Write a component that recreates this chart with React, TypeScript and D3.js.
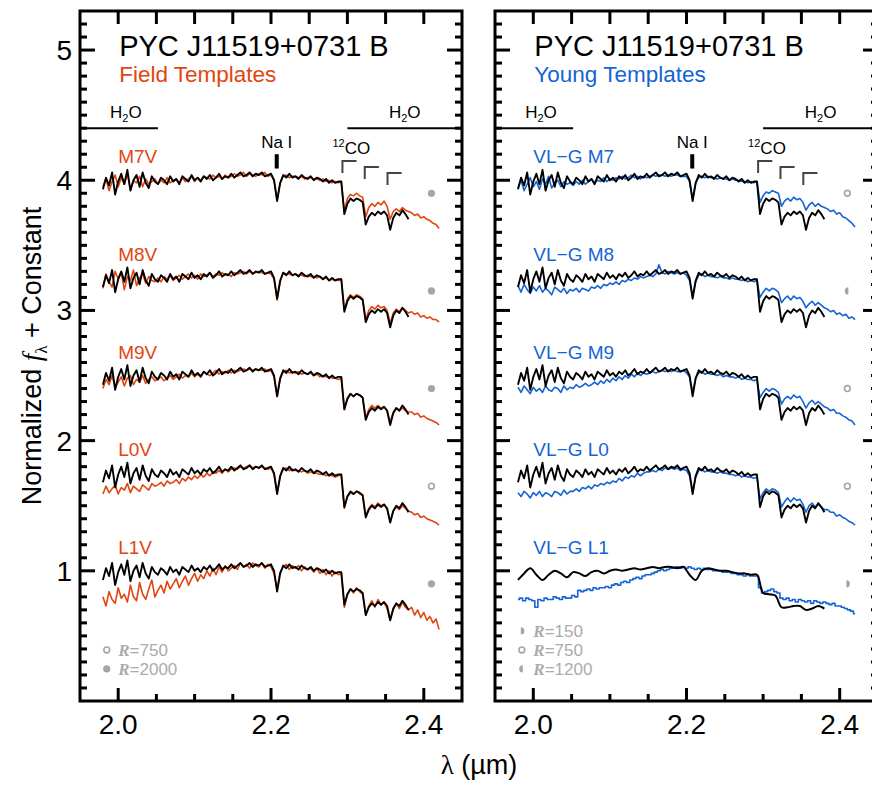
import React from 'react';
import * as d3 from 'd3';

// ---- Data (relative flux, sampled from 1.980 µm in 0.004 µm steps) ----
const WAVE_START = 1.98;
const WAVE_STEP = 0.004;
const SMOOTH_STEP = 0.008;

const OBJECT = [
  0.93,1.02,0.96,1.06,0.89,0.99,1.05,0.97,1.08,0.92,1.00,1.04,0.95,1.06,0.98,0.94,1.03,0.99,
  0.97,1.02,1.00,0.97,1.03,0.99,1.01,0.97,1.03,1.01,0.99,1.04,1.00,1.02,0.99,1.03,1.01,1.04,1.00,1.02,1.05,1.01,1.03,1.02,1.05,
  1.02,1.04,1.06,1.03,1.04,1.06,1.03,1.05,1.04,1.06,1.03,1.04,1.05,
  1.00,0.84,0.98,
  1.04,1.02,1.05,1.02,1.03,1.01,1.04,1.02,1.01,1.03,1.00,1.02,1.01,0.99,1.01,0.98,1.00,0.98,0.99,
  0.99,0.74,0.82,0.86,0.84,0.86,0.85,0.83,0.66,0.72,0.75,0.73,0.76,0.74,0.76,0.73,0.62,0.71,0.75,0.73,0.77,0.74,0.70,
];

const OBJECT_SMOOTH = [
  0.93,0.98,1.02,0.97,0.93,0.97,1.00,0.98,0.95,0.99,0.98,0.96,0.99,1.00,0.98,1.00,1.01,1.00,1.01,1.02,
  1.01,1.02,1.03,1.02,1.03,1.03,1.02,1.03,0.97,0.93,1.00,1.02,1.01,1.00,1.00,0.99,0.98,0.98,0.97,0.97,
  0.83,0.82,0.81,0.72,0.72,0.73,0.73,0.70,0.71,0.73,0.71,
];

const FIELD_M7V = [
  0.95,1.01,0.92,0.99,1.04,0.95,1.02,0.97,1.05,0.93,1.00,0.98,1.03,0.95,1.01,0.97,0.99,1.01,
  0.97,1.00,0.98,1.02,0.98,1.00,1.01,0.98,1.02,0.99,1.01,1.03,0.99,1.02,1.00,1.03,1.02,1.01,1.04,1.02,1.03,1.01,1.04,1.02,1.03,
  1.05,1.03,1.04,1.06,1.03,1.05,1.04,1.03,1.05,1.04,1.06,1.03,1.04,
  1.00,0.85,0.98,
  1.03,1.04,1.02,1.03,1.03,1.02,1.03,1.01,1.02,1.02,1.01,1.01,1.00,1.01,0.99,1.00,0.98,0.99,0.98,
  0.99,0.76,0.86,0.89,0.88,0.90,0.88,0.87,0.72,0.79,0.82,0.80,0.83,0.81,0.84,0.80,0.70,0.76,0.78,0.76,0.79,0.77,0.76,
  0.75,0.73,0.74,0.71,0.72,0.70,0.69,0.67,0.66,0.63,
];

const FIELD_M8V = [
  0.92,1.03,0.97,0.93,1.05,0.99,1.04,0.91,1.01,0.98,1.06,0.94,1.00,1.03,0.96,1.01,0.98,0.97,
  1.00,0.97,1.01,0.99,1.02,0.98,1.00,1.02,0.99,1.01,1.03,1.00,1.02,0.99,1.03,1.01,1.02,1.04,1.01,1.03,1.02,1.04,1.02,1.03,1.01,
  1.04,1.03,1.04,1.05,1.03,1.05,1.04,1.04,1.05,1.04,1.03,1.04,1.03,
  0.99,0.83,0.97,
  1.04,1.03,1.03,1.02,1.03,1.02,1.02,1.01,1.02,1.01,1.01,1.00,1.01,0.99,1.00,0.98,0.99,0.98,0.98,
  0.99,0.75,0.84,0.87,0.85,0.87,0.86,0.84,0.68,0.75,0.78,0.76,0.79,0.77,0.78,0.75,0.65,0.73,0.76,0.74,0.77,0.75,0.73,
  0.74,0.72,0.73,0.70,0.71,0.69,0.70,0.68,0.68,0.66,
];

const FIELD_M9V = [
  0.90,0.97,0.93,1.00,0.91,0.95,0.99,0.92,0.98,1.00,0.93,0.97,0.95,1.00,0.94,0.97,0.99,0.96,
  0.97,0.99,0.96,0.98,1.00,0.97,0.99,1.01,0.98,1.00,0.99,1.02,0.99,1.01,1.00,1.03,1.01,1.00,1.02,1.04,1.01,1.03,1.02,1.04,1.02,
  1.04,1.03,1.04,1.05,1.04,1.05,1.04,1.05,1.04,1.04,1.05,1.03,1.04,
  0.99,0.84,0.97,
  1.03,1.04,1.02,1.03,1.02,1.03,1.01,1.02,1.01,1.02,1.00,1.01,0.99,1.00,0.99,0.99,0.98,0.98,0.97,
  0.98,0.74,0.83,0.86,0.84,0.86,0.85,0.83,0.67,0.74,0.77,0.75,0.77,0.75,0.76,0.73,0.64,0.72,0.75,0.73,0.75,0.73,0.72,
  0.72,0.70,0.71,0.68,0.69,0.67,0.66,0.65,0.64,0.62,
];

const FIELD_L0V = [
  0.84,0.90,0.85,0.88,0.91,0.84,0.89,0.87,0.92,0.85,0.90,0.88,0.86,0.91,0.89,0.87,0.92,0.90,
  0.91,0.93,0.90,0.94,0.92,0.93,0.95,0.92,0.96,0.94,0.97,0.95,0.98,0.96,0.99,0.97,1.00,0.98,1.01,1.00,1.02,1.00,1.03,1.01,1.03,
  1.04,1.03,1.05,1.04,1.05,1.06,1.04,1.05,1.04,1.05,1.04,1.03,1.04,
  0.99,0.85,0.97,
  1.03,1.04,1.02,1.03,1.02,1.02,1.01,1.02,1.00,1.01,1.00,1.00,0.99,1.00,0.98,0.99,0.98,0.97,0.98,
  0.99,0.73,0.82,0.85,0.84,0.86,0.84,0.83,0.67,0.73,0.76,0.74,0.77,0.75,0.76,0.72,0.63,0.71,0.74,0.72,0.75,0.73,0.71,
  0.70,0.68,0.69,0.66,0.67,0.65,0.64,0.63,0.62,0.60,
];

const FIELD_L1V = [
  0.80,0.73,0.84,0.78,0.75,0.87,0.79,0.82,0.76,0.89,0.80,0.77,0.91,0.82,0.78,0.86,0.93,0.80,
  0.85,0.89,0.83,0.92,0.86,0.90,0.94,0.87,0.92,0.96,0.89,0.94,0.98,0.92,0.97,0.94,1.00,0.96,1.02,0.97,1.03,0.99,1.04,1.00,1.02,
  1.04,1.01,1.06,1.03,1.05,1.02,1.06,1.04,1.03,1.06,1.02,1.05,1.03,
  0.98,0.86,0.99,
  1.03,1.05,1.01,1.04,1.02,1.04,1.00,1.03,1.01,1.02,0.99,1.02,0.98,1.01,0.97,1.00,0.96,0.99,0.97,
  0.98,0.72,0.82,0.86,0.83,0.87,0.84,0.82,0.66,0.73,0.77,0.72,0.78,0.74,0.76,0.71,0.62,0.70,0.75,0.71,0.76,0.72,0.70,
  0.72,0.66,0.70,0.64,0.68,0.62,0.65,0.60,0.63,0.55,
];

const YOUNG_M7 = [
  0.94,1.00,0.92,0.97,1.02,0.95,0.99,0.93,1.01,0.97,1.03,0.94,0.98,1.00,0.95,0.99,0.97,0.98,
  0.96,0.99,0.97,1.00,0.97,0.99,1.01,0.98,1.00,0.99,1.02,0.99,1.01,1.00,1.02,1.01,1.03,1.01,1.02,1.04,1.02,1.03,1.01,1.03,1.02,
  1.03,1.04,1.03,1.04,1.04,1.03,1.04,1.03,1.04,1.04,1.03,1.03,1.03,
  0.99,0.86,0.98,
  1.02,1.03,1.02,1.03,1.02,1.02,1.01,1.02,1.01,1.01,1.00,1.01,1.00,1.00,0.99,0.99,0.98,0.99,0.98,
  0.99,0.83,0.88,0.91,0.90,0.92,0.91,0.90,0.80,0.84,0.86,0.84,0.87,0.85,0.86,0.83,0.77,0.81,0.83,0.80,0.82,0.80,0.79,
  0.78,0.76,0.77,0.74,0.75,0.72,0.71,0.69,0.67,0.64,
];

const YOUNG_M8 = [
  0.94,0.89,0.95,0.91,0.88,0.93,0.90,0.94,0.89,0.92,0.90,0.87,0.93,0.91,0.89,0.92,0.88,0.91,
  0.90,0.92,0.89,0.92,0.91,0.90,0.93,0.92,0.94,0.92,0.95,0.94,0.96,0.95,0.97,0.95,0.98,0.97,0.99,0.98,1.00,0.99,1.01,1.00,1.01,
  1.02,1.01,1.03,1.10,1.04,1.03,1.05,1.04,1.03,1.04,1.03,1.04,1.02,
  0.98,0.86,0.97,
  1.02,1.03,1.01,1.02,1.01,1.01,1.00,1.01,1.00,1.00,0.99,1.00,0.99,0.99,0.98,0.99,0.97,0.98,0.97,
  0.98,0.85,0.89,0.92,0.90,0.92,0.91,0.89,0.81,0.84,0.86,0.83,0.86,0.84,0.85,0.82,0.77,0.80,0.82,0.79,0.81,0.79,0.77,
  0.76,0.74,0.75,0.72,0.73,0.71,0.72,0.69,0.70,0.68,
];

const YOUNG_M9 = [
  0.91,0.87,0.92,0.89,0.86,0.91,0.88,0.90,0.87,0.92,0.89,0.88,0.91,0.90,0.87,0.92,0.89,0.91,
  0.90,0.93,0.91,0.92,0.94,0.92,0.93,0.95,0.93,0.96,0.94,0.97,0.95,0.98,0.96,0.99,0.97,1.00,0.98,1.01,0.99,1.02,1.00,1.02,1.01,
  1.02,1.03,1.02,1.03,1.04,1.03,1.04,1.03,1.04,1.03,1.03,1.04,1.02,
  0.99,0.87,0.98,
  1.02,1.03,1.01,1.02,1.01,1.01,1.00,1.01,0.99,1.00,0.99,0.99,0.98,0.99,0.97,0.98,0.97,0.97,0.96,
  0.97,0.83,0.87,0.90,0.88,0.90,0.89,0.87,0.78,0.82,0.84,0.82,0.85,0.83,0.84,0.80,0.75,0.79,0.81,0.78,0.80,0.78,0.76,
  0.75,0.73,0.74,0.71,0.71,0.69,0.68,0.66,0.65,0.62,
];

const YOUNG_L0 = [
  0.85,0.82,0.86,0.84,0.81,0.85,0.83,0.86,0.82,0.85,0.84,0.82,0.86,0.85,0.83,0.87,0.84,0.86,
  0.86,0.88,0.86,0.89,0.88,0.90,0.88,0.91,0.90,0.92,0.91,0.93,0.92,0.94,0.93,0.96,0.94,0.97,0.96,0.98,0.97,1.00,0.98,1.00,1.01,
  1.01,1.02,1.01,1.03,1.02,1.04,1.03,1.04,1.03,1.04,1.02,1.03,1.02,
  0.98,0.86,0.97,
  1.02,1.03,1.01,1.02,1.01,1.01,1.00,1.01,1.00,1.00,0.99,0.99,0.98,0.99,0.97,0.98,0.97,0.97,0.96,
  0.97,0.80,0.85,0.88,0.86,0.88,0.87,0.85,0.74,0.78,0.81,0.78,0.81,0.79,0.80,0.76,0.70,0.75,0.77,0.74,0.76,0.74,0.72,
  0.72,0.70,0.70,0.67,0.68,0.66,0.65,0.63,0.62,0.60,
];

const YOUNG_L1 = [
  0.78,0.79,0.77,0.79,0.78,0.77,0.72,0.78,0.77,0.79,0.78,0.78,0.80,0.79,0.78,0.80,0.79,0.79,
  0.81,0.80,0.85,0.84,0.85,0.86,0.85,0.87,0.86,0.87,0.87,0.88,0.87,0.89,0.90,0.89,0.91,0.92,0.91,0.93,0.94,0.95,0.94,0.96,0.97,
  0.97,0.98,0.99,1.00,1.01,1.00,1.01,1.02,1.02,1.03,1.02,1.03,1.02,
  1.03,1.02,1.01,
  1.02,1.01,1.02,1.01,1.01,1.00,1.00,1.00,0.99,0.99,0.99,0.98,0.98,0.97,0.97,0.96,0.97,0.96,0.96,
  0.96,0.87,0.83,0.84,0.85,0.86,0.84,0.83,0.79,0.78,0.79,0.77,0.78,0.76,0.78,0.77,0.76,0.77,0.75,0.77,0.76,0.75,0.76,
  0.75,0.74,0.75,0.73,0.73,0.72,0.71,0.70,0.69,0.67,
];

const OFFSETS = [3, 2.25, 1.5, 0.75, 0];
const FIELD_SERIES = [FIELD_M7V, FIELD_M8V, FIELD_M9V, FIELD_L0V, FIELD_L1V];
const YOUNG_SERIES = [YOUNG_M7, YOUNG_M8, YOUNG_M9, YOUNG_L0, YOUNG_L1];
const FIELD_LABELS = ['M7V', 'M8V', 'M9V', 'L0V', 'L1V'];
const YOUNG_LABELS = ['VL\u2212G M7', 'VL\u2212G M8', 'VL\u2212G M9', 'VL\u2212G L0', 'VL\u2212G L1'];
const FIELD_RES = ['2000', '2000', '2000', '750', '2000'];
const YOUNG_RES = ['750', '1200', '750', '750', '150'];
const FIELD_LEGEND = ['750', '2000'];
const YOUNG_LEGEND = ['150', '750', '1200'];

const X_MAJOR = [2.0, 2.2, 2.4];
const X_MINOR = [2.05, 2.1, 2.15, 2.25, 2.3, 2.35];
const Y_MAJOR = [1, 2, 3, 4, 5];
const CO_HEADS = [2.2935, 2.3227, 2.3525];

const ORANGE = '#E2450F';
const BLUE = '#1464D6';
const GRAY = '#a6a6a6';
const SANS = '"Liberation Sans", Arial, Helvetica, sans-serif';
const SERIF = '"Liberation Serif", "Times New Roman", serif';

const W = 872;
const H = 787;
const Y_TOP = 11;
const Y_BOT = 701;

const y = d3.scaleLinear().domain([0, 5.3]).range([Y_BOT, Y_TOP]);
const yMinor = d3.range(1, 53).map((i) => i / 10).filter((v) => Math.abs(v - Math.round(v)) > 1e-6);

function Marker({ kind, cx, cy }: { kind: string; cx: number; cy: number }) {
  const r = 3.6;
  if (kind === '2000') return <circle cx={cx} cy={cy} r={r} fill={GRAY} />;
  if (kind === '750') return <circle cx={cx} cy={cy} r={r - 0.7} fill="none" stroke={GRAY} strokeWidth={1.6} />;
  if (kind === '1200')
    return <path d={`M${cx + 1},${cy - r} A${r},${r} 0 0 0 ${cx + 1},${cy + r} Z`} fill={GRAY} />;
  return <path d={`M${cx - 1},${cy - r} A${r},${r} 0 0 1 ${cx - 1},${cy + r} Z`} fill={GRAY} />;
}

function Panel({ side }: { side: 'left' | 'right' }) {
  const isLeft = side === 'left';
  const range: [number, number] = isLeft ? [80, 462] : [495, 878];
  const x = d3.scaleLinear().domain([1.95, 2.45]).range(range);
  const color = isLeft ? ORANGE : BLUE;
  const series = isLeft ? FIELD_SERIES : YOUNG_SERIES;
  const labels = isLeft ? FIELD_LABELS : YOUNG_LABELS;
  const res = isLeft ? FIELD_RES : YOUNG_RES;
  const legend = isLeft ? FIELD_LEGEND : YOUNG_LEGEND;
  const legendY = isLeft ? [0.392, 0.246] : [0.538, 0.392, 0.246];

  const lineAt = (off: number, step: number, curve: any) =>
    d3
      .line<number>()
      .x((_, i) => x(WAVE_START + i * step))
      .y((d) => y(d + off))
      .curve(curve);

  const [x0, x1] = range;
  const tickW = 3;

  return (
    <g>
      {series.map((s, k) => {
        const off = OFFSETS[k];
        const isStep = !isLeft && k === 4;
        const tmpl = lineAt(off, WAVE_STEP, isStep ? d3.curveStep : d3.curveLinear)(s) || '';
        const obj = isStep
          ? lineAt(off, SMOOTH_STEP, d3.curveCatmullRom)(OBJECT_SMOOTH) || ''
          : lineAt(off, WAVE_STEP, d3.curveLinear)(OBJECT) || '';
        return (
          <g key={k}>
            <path d={tmpl} fill="none" stroke={color} strokeWidth={1.6} strokeLinejoin="round" />
            <path d={obj} fill="none" stroke="#000" strokeWidth={isStep ? 2 : 1.9} strokeLinejoin="round" />
            <text x={x(2.0)} y={y(off + 1.13)} fill={color} fontFamily={SANS} fontSize={19}>
              {labels[k]}
            </text>
            <Marker kind={res[k]} cx={x(2.41)} cy={y(off + 0.9)} />
          </g>
        );
      })}

      {legend.map((r, i) => (
        <g key={r}>
          <Marker kind={r} cx={x(1.985)} cy={y(legendY[i])} />
          <text x={x(2.0)} y={y(legendY[i]) + 6} fill="#ababab" fontFamily={SANS} fontSize={17}>
            <tspan fontFamily={SERIF} fontWeight="bold" fontStyle="italic">R</tspan>
            <tspan>={r}</tspan>
          </text>
        </g>
      ))}

      <text x={x(2.0) + 1} y={56} fontFamily={SANS} fontSize={29} fill="#000">
        PYC J11519+0731 B
      </text>
      <text x={x(2.0) + 1} y={82} fontFamily={SANS} fontSize={22.5} fill={color}>
        {isLeft ? 'Field Templates' : 'Young Templates'}
      </text>

      <line x1={x0} x2={x(2.052)} y1={y(4.4)} y2={y(4.4)} stroke="#000" strokeWidth={2} />
      <line x1={x(2.3)} x2={x1} y1={y(4.4)} y2={y(4.4)} stroke="#000" strokeWidth={2} />
      {[2.01, 2.375].map((w) => (
        <text key={w} x={x(w)} y={y(4.475)} textAnchor="middle" fontFamily={SANS} fontSize={17}>
          H<tspan fontSize={11} dy={4}>2</tspan>
          <tspan dy={-4}>O</tspan>
        </text>
      ))}

      <text x={x(2.2075)} y={y(4.245)} textAnchor="middle" fontFamily={SANS} fontSize={17}>
        Na I
      </text>
      <rect x={x(2.2075) - 2} y={y(4.2)} width={4} height={y(4.09) - y(4.2)} fill="#000" />

      <text x={x(2.2935) - 10} y={y(4.2)} fontFamily={SANS} fontSize={17}>
        <tspan fontSize={11} dy={-7}>12</tspan>
        <tspan dy={7}>CO</tspan>
      </text>
      {CO_HEADS.map((w, i) => {
        const top = 4.148 - i * 0.046;
        const bot = top - 0.093;
        return (
          <path
            key={w}
            d={`M${x(w)},${y(bot)} L${x(w)},${y(top)} L${x(w + 0.0185)},${y(top)}`}
            fill="none"
            stroke="#444"
            strokeWidth={2}
          />
        );
      })}

      {X_MAJOR.concat(X_MINOR).map((w) => {
        const major = X_MAJOR.includes(w);
        return (
          <g key={'xt' + w}>
            <line x1={x(w)} x2={x(w)} y1={Y_BOT} y2={Y_BOT - (major ? 13 : 7)} stroke="#000" strokeWidth={tickW} />
            <line x1={x(w)} x2={x(w)} y1={Y_TOP} y2={Y_TOP + 13} stroke="#000" strokeWidth={tickW} />
          </g>
        );
      })}
      {Y_MAJOR.map((v) => (
        <g key={'ym' + v}>
          <line x1={x0} x2={x0 + 15} y1={y(v)} y2={y(v)} stroke="#000" strokeWidth={tickW} />
          <line x1={x1} x2={x1 - 15} y1={y(v)} y2={y(v)} stroke="#000" strokeWidth={tickW} />
        </g>
      ))}
      {yMinor.map((v) => (
        <g key={'yn' + v}>
          <line x1={x0} x2={x0 + 7} y1={y(v)} y2={y(v)} stroke="#000" strokeWidth={tickW} />
          <line x1={x1} x2={x1 - 7} y1={y(v)} y2={y(v)} stroke="#000" strokeWidth={tickW} />
        </g>
      ))}

      <rect x={x0} y={Y_TOP} width={x1 - x0} height={Y_BOT - Y_TOP} fill="none" stroke="#000" strokeWidth={3} />

      {X_MAJOR.map((w) => (
        <text key={'xl' + w} x={x(w)} y={734} textAnchor="middle" fontFamily={SANS} fontSize={28}>
          {d3.format('.1f')(w)}
        </text>
      ))}
      {isLeft &&
        Y_MAJOR.map((v) => (
          <text key={'yl' + v} x={72} y={y(v) + 10} textAnchor="end" fontFamily={SANS} fontSize={28}>
            {v}
          </text>
        ))}
    </g>
  );
}

export default function App() {
  return (
    <svg
      width={W}
      height={H}
      viewBox={`0 0 ${W} ${H}`}
      style={{ position: 'absolute', left: 0, top: 0, background: '#fff' }}
    >
      <Panel side="left" />
      <Panel side="right" />
      <text
        transform={`translate(41, ${(Y_TOP + Y_BOT) / 2}) rotate(-90)`}
        textAnchor="middle"
        fontFamily={SANS}
        fontSize={27}
      >
        Normalized <tspan fontFamily={SERIF} fontStyle="italic">f</tspan>
        <tspan fontFamily={SERIF} fontSize={17} dy={6}>λ</tspan>
        <tspan dy={-6}> + Constant</tspan>
      </text>
      <text x={479} y={774} textAnchor="middle" fontFamily={SANS} fontSize={27}>
        <tspan fontFamily={SERIF}>λ</tspan> (µm)
      </text>
    </svg>
  );
}
